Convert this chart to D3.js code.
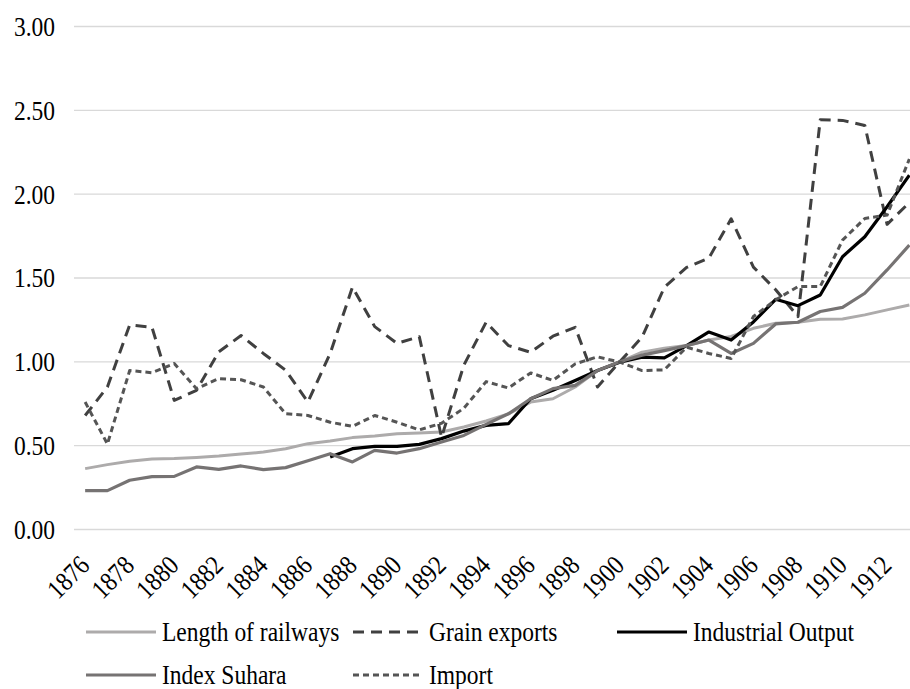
<!DOCTYPE html>
<html>
<head>
<meta charset="utf-8">
<script src="https://cdnjs.cloudflare.com/ajax/libs/d3/7.8.5/d3.min.js"></script>
<style>
  body { margin: 0; background: #fff; }
  text { font-family: "Liberation Serif", "Times New Roman", serif; fill: #000; }
</style>
</head>
<body>
<div id="chart"></div>
<script>
var years = d3.range(1876, 1914)
var yTicks = [0, 0.5, 1, 1.5, 2, 2.5, 3]

var railways = [0.363, 0.387, 0.407, 0.42, 0.423, 0.43, 0.438, 0.45, 0.462, 0.482,
  0.512, 0.528, 0.548, 0.557, 0.571, 0.575, 0.581, 0.611, 0.647, 0.69,
  0.76, 0.78, 0.85, 0.948, 1.0, 1.058, 1.081, 1.097, 1.13, 1.151,
  1.2, 1.23, 1.236, 1.254, 1.256, 1.28, 1.31, 1.339]

var grain = [0.68, 0.85, 1.22, 1.206, 0.77, 0.83, 1.06, 1.157, 1.05, 0.95,
  0.76, 1.05, 1.445, 1.21, 1.11, 1.15, 0.55, 0.98, 1.236, 1.097,
  1.057, 1.153, 1.206, 0.85, 1.0, 1.147, 1.444, 1.563, 1.619, 1.853,
  1.565, 1.43, 1.27, 2.444, 2.44, 2.41, 1.82, 1.95]

var industrial = [null, null, null, null, null, null, null, null, null, null,
  null, 0.433, 0.482, 0.496, 0.496, 0.508, 0.542, 0.587, 0.621, 0.631,
  0.78, 0.83, 0.889, 0.948, 0.998, 1.028, 1.024, 1.097, 1.178, 1.13,
  1.238, 1.373, 1.335, 1.399, 1.627, 1.746, 1.925, 2.113]

var suhara = [0.232, 0.232, 0.294, 0.315, 0.317, 0.373, 0.359, 0.379, 0.357, 0.369,
  0.41, 0.452, 0.403, 0.472, 0.456, 0.482, 0.522, 0.561, 0.627, 0.69,
  0.78, 0.84, 0.86, 0.948, 1.0, 1.04, 1.067, 1.097, 1.13, 1.05,
  1.11, 1.226, 1.236, 1.3, 1.325, 1.409, 1.548, 1.696]

var imports = [0.76, 0.51, 0.948, 0.935, 0.99, 0.84, 0.9, 0.893, 0.85, 0.69,
  0.68, 0.64, 0.615, 0.68, 0.64, 0.594, 0.634, 0.723, 0.882, 0.844,
  0.934, 0.889, 0.988, 1.03, 0.998, 0.948, 0.952, 1.087, 1.05, 1.02,
  1.27, 1.37, 1.449, 1.449, 1.726, 1.855, 1.875, 2.21]

var series = [
  { name: "Length of railways", values: railways, color: "#adabab", width: 3, dash: null },
  { name: "Grain exports", values: grain, color: "#404040", width: 3, dash: "11,7" },
  { name: "Industrial Output", values: industrial, color: "#000000", width: 3.2, dash: null },
  { name: "Index Suhara", values: suhara, color: "#767373", width: 3.2, dash: null },
  { name: "Import", values: imports, color: "#555555", width: 3, dash: "6,4" }
]

var width = 910, height = 689
// text in the picture is narrow and tall
var fontSize = "27px", squeeze = " scale(0.87,1)"

var svg = d3.select("#chart").append("svg")
  .attr("width", width)
  .attr("height", height)

var xs = d3.scaleBand().domain(years).range([74, 920.5])
var ys = d3.scaleLinear().domain([0, 3]).range([529.5, 26.5])
function cx(d) { return xs(d) + xs.bandwidth() / 2 }

// gridlines
svg.append("g").selectAll("line")
  .data(yTicks)
  .enter().append("line")
  .attr("x1", 74).attr("x2", width)
  .attr("y1", d => ys(d)).attr("y2", d => ys(d))
  .attr("stroke", "#d9d9d9")
  .attr("stroke-width", 1.3)

svg.append("g").selectAll("text")
  .data(yTicks)
  .enter().append("text")
  .attr("transform", d => "translate(55," + ys(d) + ")" + squeeze)
  .attr("dy", "0.35em")
  .attr("text-anchor", "end")
  .style("font-size", fontSize)
  .text(d => d3.format(".2f")(d))

svg.append("g").selectAll("text")
  .data(years.filter(d => (d - 1876) % 2 == 0))
  .enter().append("text")
  .attr("transform", d => "translate(" + (cx(d) + 6) + ",567) rotate(-45)" + squeeze)
  .attr("text-anchor", "end")
  .style("font-size", fontSize)
  .text(d => d)

var line = d3.line()
  .defined(d => d != null)
  .x((d, i) => cx(years[i]))
  .y(d => ys(d))

svg.append("g").selectAll("path")
  .data(series)
  .enter().append("path")
  .attr("d", d => line(d.values))
  .attr("fill", "none")
  .attr("stroke", d => d.color)
  .attr("stroke-width", d => d.width)
  .attr("stroke-dasharray", d => d.dash)
  .attr("stroke-linejoin", "round")

// legend
var legendPos = [[86, 632], [353, 632], [617, 632], [86, 675], [353, 675]]
var legend = svg.append("g").selectAll("g")
  .data(series)
  .enter().append("g")
  .attr("transform", (d, i) => "translate(" + legendPos[i][0] + "," + legendPos[i][1] + ")")

legend.append("line")
  .attr("x1", 0).attr("x2", 70)
  .attr("stroke", d => d.color)
  .attr("stroke-width", d => d.width)
  .attr("stroke-dasharray", d => d.dash)

legend.append("text")
  .attr("transform", "translate(76,0)" + squeeze)
  .attr("dy", "0.33em")
  .style("font-size", fontSize)
  .text(d => d.name)
</script>
</body>
</html>
